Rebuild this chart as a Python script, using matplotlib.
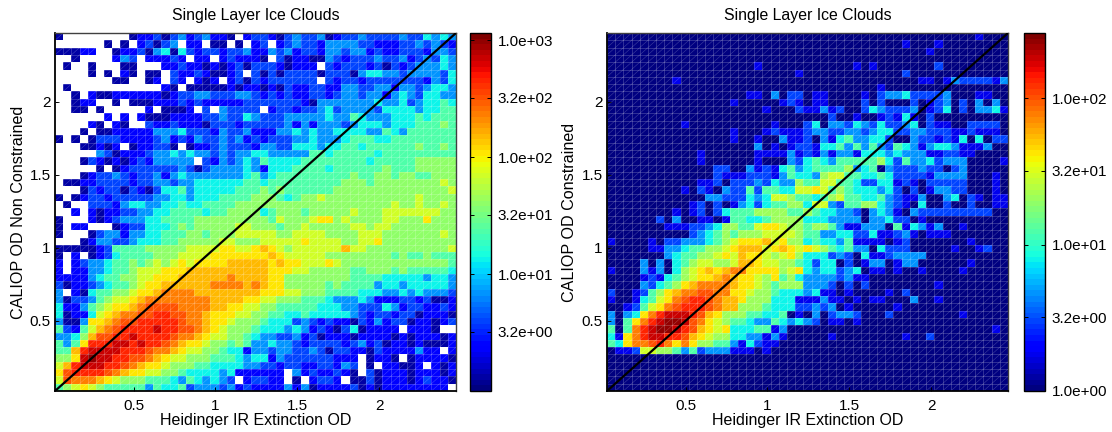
import numpy as np
import matplotlib
matplotlib.use('Agg')
import matplotlib.pyplot as plt
from matplotlib.collections import LineCollection
from matplotlib.colors import LogNorm

plt.rcParams['font.family'] = ['Liberation Sans', 'DejaVu Sans']

# Approximate cell counts, as colour steps (_ = empty cell).
# Rows run from the top of each panel to the bottom, 49 columns each.
LEVEL_KEYS = '0123456789abcde'
LEFT_COUNTS = [1.3, 2.3, 4.1, 7.2, 12.6, 24, 42, 68, 105, 158, 230, 323, 459, 740, 1000]
RIGHT_COUNTS = [1.0, 1.8, 3.0, 4.8, 7.6, 12.6, 20, 29, 41, 56, 75, 101, 134, 195, 249]

LEFT_ROWS = [
    "0________0 1120231231 10_1221023 2230122322 223224343",
    "______0_0_ 12023_11_0 0_0_12_123 2213333221 112232321",
    "00011__011 2034042122 1223113231 2213323312 112221332",
    "__0____132 _11121_11_ 121110_201 1003212223 223123243",
    "_0__0___00 ___1121101 0120222101 11_2122212 021233343",
    "____0_0_10 _00_211210 012_202022 2202220344 332333324",
    "_______00_ _01_21_101 _120212222 22_2122122 222221324",
    "_0________ ___10_0000 0101101021 1221133223 313323443",
    "__0_100111 1110122332 2233212121 1221233233 134324433",
    "__011__0_0 0011121211 1112222222 1033333334 334234454",
    "__00_0____ _1_0001_2_ 32222_1221 2234233332 444434455",
    "______1_1_ 1000111122 3224322233 3334335433 344454555",
    "____10_10_ _211211102 2212222231 3133323444 344455565",
    "___0_00111 1133342221 3223111334 3433444433 543555555",
    "0_0_022211 1123121322 3231212223 3433345554 455555555",
    "___00101_0 11220_0112 3222133224 4434455455 555565565",
    "_____32011 1233434332 3233443333 3554555554 555555555",
    "___0210101 2133333_21 3234354444 5555555545 555566666",
    "_____0_012 2222232023 3334314445 5554555555 655566666",
    "___0122321 2231343333 3334534555 5555556556 656655666",
    "_001122221 2233233444 4445545555 5555566656 666666676",
    "___0212202 1024453444 4455565655 5555666666 666666667",
    "0_01221222 2233443444 5555666545 6676666666 666676666",
    "_0__222134 4334454455 5566666666 6666666666 676676676",
    "__1_101122 3344555545 5666645666 5666667666 777777766",
    "0___101233 3445555666 6666665766 6788676666 776668666",
    "0_11___012 2444565666 6677666566 7666667767 766666666",
    "0___023313 3445556656 6677777667 7776666777 666666676",
    "___0133223 4445566666 7766677777 8777766778 666666666",
    "0000012555 5666667777 8877898767 7777797766 666666667",
    "0_1_012455 5566677778 8888889877 7776666666 656556555",
    "1_12334556 5676787888 8999998988 7778766666 666666665",
    "1_11334556 7778889999 9999998887 7666665566 656555554",
    "1111345566 7788899999 9a99998866 6666665555 444443443",
    "2011234556 788999999a aaa9a98866 6665655553 443444443",
    "3_10455667 889aaaa999 9999988877 6665555444 334343332",
    "3022356778 9aaaaaaaa9 9998877666 5554333431 112212001",
    "4113567889 abbbbaaaa9 9887766555 5544433222 431221121",
    "40114789aa bbccbbaa98 8877665544 5444443212 212201110",
    "3003889abb cccccbaa98 8766654442 3212110213 122011012",
    "521579abcc ccdccbba98 7666544434 3121024011 11_1110__",
    "33469bbccd ccccbaa987 7665433223 1201110111 101011101",
    "5358cccddc dccba98876 6565334332 1222212312 011010001",
    "559cddddcc cbaa987766 5441332332 2320221102 1111311_1",
    "668deddccb ba98776665 5543441322 2222111_01 10_011110",
    "79cdddccba 9887666554 4443322122 1122132_0_ 11001_101",
    "8bccccba98 8776654444 34111111_3 1211210_20 111011101",
    "7baaa98766 6555435434 32_12211_0 _1221_0020 111012110",
    "5678765555 5354452333 2312111131 3011112010 11111111_",
]

Z10 = "0000000000"
Z9 = "000000000"
RIGHT_ROWS = [
    f"{Z10} {Z10} {Z10} {Z10} 000001000",
    f"{Z10} {Z10} {Z10} 0000001000 100000000",
    f"{Z10} {Z10} {Z10} 0000000001 {Z9}",
    f"{Z10} {Z10} {Z10} {Z10} {Z9}",
    f"{Z10} 0000000010 {Z10} 1010000000 200000000",
    f"{Z10} {Z10} 0001000000 0000002000 {Z9}",
    f"0000000010 {Z10} {Z10} 0000000011 013222213",
    f"{Z10} {Z10} {Z10} 0001000000 {Z9}",
    f"{Z10} 0000000110 3022011000 0102334222 230001100",
    f"{Z10} 0000010000 0121011000 0202000201 230203030",
    f"{Z10} 0000000001 0002113120 0243222301 240203341",
    f"{Z10} {Z10} 0000000200 1001214102 {Z9}",
    f"0000000001 {Z10} 1000240332 4324223402 110022220",
    f"{Z10} 0000010001 2111233223 3234422332 221121110",
    f"{Z10} 0000010010 0311203145 3344200322 121404022",
    f"{Z10} 0000000030 1012214453 5353254313 443111300",
    f"{Z10} 0100000011 1131213133 1444343331 122110000",
    f"{Z10} 0100000010 0032454355 5556425334 233300001",
    f"{Z10} 0002200312 1453455556 3450322232 202300000",
    f"{Z10} 0002111222 1354436775 5445422221 333300010",
    f"{Z10} 0112022232 4336557755 4224412102 222200010",
    f"0000000001 0210322525 5447787565 4443420201 332200010",
    f"{Z10} 0033222434 7765545675 5445321130 034021011",
    f"{Z10} 1202013424 5566477325 5664321040 020020011",
    f"0000000010 1202455566 6655654433 2034310322 222222200",
    f"0000002030 0110155445 6666444333 3033422010 {Z9}",
    f"0000000111 2234665578 8766566531 1333051431 300100000",
    f"{Z10} 2345656667 7776553344 2241123101 110000000",
    f"1000010223 3345678889 7866454435 1111012000 000010000",
    f"0000011334 5566789997 8987876545 3304222000 001001200",
    f"0000000345 5667879887 6786444232 0411233330 {Z9}",
    f"0000303045 6776679987 7665424402 0133013300 000010000",
    f"1000313046 78989aa888 8678434423 4011010010 000100000",
    f"0000121456 7889a98876 8564333323 1100000000 {Z9}",
    f"0000324568 9aaaa98876 5666333202 0200000000 100000000",
    f"200125689a abbaa88766 5444341101 0000102000 {Z9}",
    f"10014578ab ccba998666 4441113110 1011000300 100000000",
    f"0012578abc ccba996665 4442232301 0000010000 {Z9}",
    f"30348acddd cb98666554 4501030233 2000200000 000100000",
    f"3058acdeed ba87655433 5434320110 1000000000 {Z9}",
    f"505acdeedc b987844455 1300000000 {Z10} 000000010",
    f"418acddccb 9876644331 3100000100 0000001002 {Z9}",
    f"548aabca8a 8665531421 1000000000 {Z10} {Z9}",
    f"0112776653 5233311101 {Z10} {Z10} {Z9}",
    f"{Z10} {Z10} {Z10} {Z10} {Z9}",
    f"{Z10} {Z10} {Z10} {Z10} {Z9}",
    f"{Z10} {Z10} {Z10} {Z10} {Z9}",
    f"{Z10} {Z10} {Z10} {Z10} {Z9}",
    f"{Z10} {Z10} {Z10} {Z10} {Z9}",
]

BIN_START = 0.02
BIN_WIDTH = 0.05
N_BINS = 49
AXIS_TICKS = [0.5, 1, 1.5, 2]
AXIS_LABELS = ['0.5', '1', '1.5', '2']
TITLE = 'Single Layer Ice Clouds'
XLABEL = 'Heidinger IR Extinction OD'
YLABELS = ['CALIOP OD Non Constrained', 'CALIOP OD Constrained']
CB_TICKS_LEFT = [3.2, 10, 32, 100, 320, 1000]
CB_LABELS_LEFT = ['3.2e+00', '1.0e+01', '3.2e+01', '1.0e+02', '3.2e+02', '1.0e+03']
CB_TICKS_RIGHT = [1, 3.2, 10, 32, 100]
CB_LABELS_RIGHT = ['1.0e+00', '3.2e+00', '1.0e+01', '3.2e+01', '1.0e+02']
VMAX_LEFT = 1150
VMAX_RIGHT = 279


def decode(rows, counts):
    grid = np.full((N_BINS, N_BINS), np.nan)
    for r, row in enumerate(rows):
        cells = row.replace(' ', '')[:N_BINS].ljust(N_BINS, '_')
        for c, ch in enumerate(cells):
            if ch != '_':
                grid[N_BINS - 1 - r, c] = counts[LEVEL_KEYS.index(ch)]
    return grid


W, H = 1112, 432
fig = plt.figure(figsize=(W / 100, H / 100), dpi=100, facecolor='white')


def px_axes(x0, y0, x1, y1):
    return fig.add_axes([x0 / W, 1 - y1 / H, (x1 - x0) / W, (y1 - y0) / H])


cmap = plt.get_cmap('jet', 64).copy()
cmap.set_bad('white')
edges = BIN_START + BIN_WIDTH * np.arange(N_BINS + 1)
lo, hi = edges[0], edges[-1]


def panel(box, cbox, grid, vmax, ylabel, cticks, clabels, ylab_x):
    ax = px_axes(*box)
    mesh = ax.pcolormesh(edges, edges, np.ma.masked_invalid(grid), cmap=cmap,
                         norm=LogNorm(vmin=1, vmax=vmax), linewidth=0, rasterized=True)
    grid_segs = [[(e, lo), (e, hi)] for e in edges] + [[(lo, e), (hi, e)] for e in edges]
    ax.add_collection(LineCollection(grid_segs, colors='white', linewidths=0.6, alpha=0.22, zorder=2))
    diag = []
    for k in range(-N_BINS + 1, N_BINS):
        a, b = max(0, -k), min(N_BINS, N_BINS - k)
        diag.append([(edges[a + k], edges[a]), (edges[b + k], edges[b])])
    ax.add_collection(LineCollection(diag, colors='white', linewidths=0.4, alpha=0.25, zorder=2))
    ax.plot([lo, hi], [lo, hi], color='black', lw=1.6, zorder=3)
    ax.set_xlim(lo, hi)
    ax.set_ylim(lo, hi)
    ax.set_xticks(AXIS_TICKS, AXIS_LABELS)
    ax.set_yticks(AXIS_TICKS, AXIS_LABELS)
    ax.tick_params(direction='in', length=3, width=0.7, labelsize=11, colors='black')
    ax.tick_params(axis='x', pad=6)
    ax.tick_params(axis='y', pad=3)
    for side, s in ax.spines.items():
        s.set_linewidth(1.3 if side in ('left', 'bottom') else 1.0)
        s.set_color('black' if side in ('left', 'bottom') else '#404040')
    fig.text((box[0] + box[2]) / 2 / W, 1 - 15.5 / H, TITLE, ha='center', va='center', fontsize=11.45)
    fig.text((box[0] + box[2]) / 2 / W, 1 - 420.5 / H, XLABEL, ha='center', va='center', fontsize=11.5)
    fig.text(ylab_x / W, 1 - (box[1] + box[3]) / 2 / H, ylabel, rotation=90,
             ha='center', va='center', fontsize=11.65)
    cax = px_axes(*cbox)
    cb = fig.colorbar(mesh, cax=cax)
    cb.set_ticks(cticks, labels=clabels)
    cb.ax.minorticks_off()
    cb.ax.tick_params(direction='in', length=3, width=0.7, labelsize=11, pad=5,
                      left=True, right=True)
    cb.outline.set_linewidth(1.0)
    return ax


panel((55, 33, 456, 391), (470, 33, 491, 391), decode(LEFT_ROWS, LEFT_COUNTS),
      VMAX_LEFT, YLABELS[0], CB_TICKS_LEFT, CB_LABELS_LEFT, 19)
panel((607, 33, 1008, 391), (1024, 33, 1045, 391), decode(RIGHT_ROWS, RIGHT_COUNTS),
      VMAX_RIGHT, YLABELS[1], CB_TICKS_RIGHT, CB_LABELS_RIGHT, 570)

fig.savefig('out.png', dpi=100)
